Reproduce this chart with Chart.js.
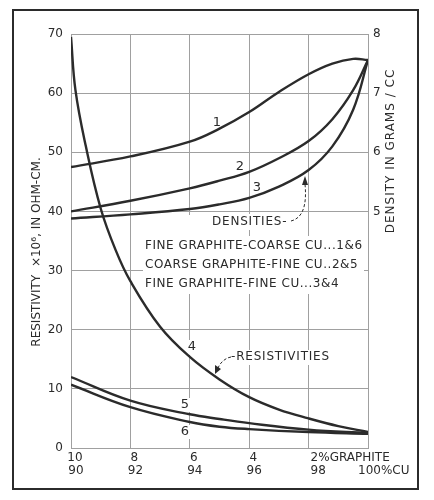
<!DOCTYPE html>
<html>
<head>
<meta charset="utf-8">
<script src="https://cdn.jsdelivr.net/npm/chart.js@4/dist/chart.umd.min.js"></script>
<style>
  body { margin: 0; background: #fff; }
  #wrap { width: 434px; height: 500px; position: relative; }
</style>
</head>
<body>
<div id="wrap"><canvas id="chart"></canvas></div>
<script>
// Copper-graphite compacts: density and resistivity vs composition

// x axis: percent copper (graphite = 100 - copper)
const xTicks = [90, 92, 94, 96, 98, 100];
const graphiteLabels = ['10', '8', '6', '4', '2%GRAPHITE', ''];
const copperLabels = ['90', '92', '94', '96', '98', '100%CU'];

// density curves (right axis, g/cc)
const densityCu = [90, 92, 94, 95, 96, 97, 98, 98.8, 99.5, 100];
const density1 = [5.75, 5.93, 6.18, 6.40, 6.68, 7.02, 7.32, 7.50, 7.58, 7.56];
const density2 = [5.00, 5.18, 5.39, 5.52, 5.67, 5.90, 6.19, 6.56, 7.05, 7.56];
const density3 = [4.88, 4.95, 5.04, 5.12, 5.23, 5.42, 5.70, 6.10, 6.72, 7.56];

// resistivity curves (left axis, x10^6 ohm-cm)
const resist4Cu = [90, 90.15, 90.5, 91, 91.5, 92, 93, 94, 95, 96, 97, 98, 99, 100];
const resist4 = [69.5, 60.5, 51.0, 40.5, 33.5, 28.2, 20.5, 15.4, 11.6, 8.6, 6.5, 5.0, 3.7, 2.7];
const resistCu = [90, 92, 94, 95, 96, 98, 100];
const resist5 = [12.0, 8.0, 5.7, 4.9, 4.2, 3.1, 2.5];
const resist6 = [10.7, 6.9, 4.4, 3.6, 3.2, 2.7, 2.4];

const leftTicks = [0, 10, 20, 30, 40, 50, 60, 70];
const rightTicks = [5, 6, 7, 8];

const legendLines = [
    'FINE GRAPHITE-COARSE CU...1&6',
    'COARSE GRAPHITE-FINE CU..2&5',
    'FINE GRAPHITE-FINE CU...3&4'
];

const INK = '#2b2b2b';
const GRID = '#a0a0a0';
const FONT = '"DejaVu Sans", sans-serif';

function toPoints(xs, ys) {
    return xs.map((x, i) => ({ x: x, y: ys[i] }));
}

function curve(xs, ys, axis) {
    return {
        data: toPoints(xs, ys),
        yAxisID: axis,
        borderColor: INK,
        borderWidth: 2.4,
        pointRadius: 0,
        fill: false,
        tension: 0.4
    };
}

// --- custom drawing: blank areas, labels, arrows, frame ---
const decor = {
    id: 'decor',
    beforeDatasetsDraw(chart) {
        const ctx = chart.ctx;
        ctx.save();
        ctx.fillStyle = '#fff';
        // gap in the grid behind the legend block and the labels
        ctx.fillRect(143, 236, 221, 58);
        ctx.fillRect(143, 215, 60, 22);
        ctx.fillRect(210, 214, 84, 16);
        ctx.fillRect(230, 350, 104, 15);
        ctx.fillRect(186, 340, 12, 15);
        ctx.fillRect(179, 398, 12, 14);
        ctx.fillRect(179, 425, 12, 14);
        ctx.restore();
    },
    afterDraw(chart) {
        const ctx = chart.ctx;
        const xs = chart.scales.x;
        ctx.save();
        ctx.fillStyle = INK;
        ctx.strokeStyle = INK;
        ctx.textBaseline = 'middle';

        // x tick labels (two rows)
        ctx.font = '12px ' + FONT;
        xTicks.forEach((v, i) => {
            const px = xs.getPixelForValue(v);
            if (i < 4) {
                ctx.textAlign = 'center';
                ctx.fillText(graphiteLabels[i], px + 4, 458);
                ctx.fillText(copperLabels[i], px + 5, 471);
            } else if (i === 4) {
                ctx.textAlign = 'left';
                ctx.fillText(graphiteLabels[i], px + 2, 458);
                ctx.fillText(copperLabels[i], px + 2, 471);
            } else {
                ctx.textAlign = 'left';
                ctx.fillText(copperLabels[i], px - 10, 471);
            }
        });

        // axis titles
        ctx.textAlign = 'center';
        ctx.letterSpacing = '0px';
        ctx.save();
        ctx.translate(37, 252);
        ctx.rotate(-Math.PI / 2);
        ctx.fillText('RESISTIVITY  \u00d710\u2076, IN OHM-CM.', 0, 0);
        ctx.restore();
        ctx.letterSpacing = '1px';
        ctx.save();
        ctx.translate(391, 151);
        ctx.rotate(-Math.PI / 2);
        ctx.fillText('DENSITY IN GRAMS / CC', 0, 0);
        ctx.restore();

        // legend block
        ctx.letterSpacing = '0.55px';
        ctx.textAlign = 'left';
        ctx.font = '12px ' + FONT;
        legendLines.forEach((t, i) => ctx.fillText(t, 145, 246 + i * 19));

        // curve group labels
        ctx.letterSpacing = '0.8px';
        ctx.fillText('DENSITIES-', 212, 222);
        ctx.fillText('-RESISTIVITIES', 231, 357);

        // curve numbers
        ctx.letterSpacing = '0px';
        ctx.textAlign = 'center';
        ctx.font = '13px ' + FONT;
        [['1', 217, 123], ['2', 240, 167], ['3', 257, 188],
         ['4', 192, 347], ['5', 185, 405], ['6', 185, 432]].forEach(l => ctx.fillText(l[0], l[1], l[2]));

        // dashed arrows
        ctx.lineWidth = 1;
        ctx.setLineDash([3, 2]);
        ctx.beginPath();
        ctx.moveTo(291, 221);
        ctx.bezierCurveTo(303, 218, 307, 205, 305, 184);
        ctx.stroke();
        ctx.beginPath();
        ctx.moveTo(231, 357);
        ctx.bezierCurveTo(225, 358, 220, 363, 218, 368);
        ctx.stroke();
        ctx.setLineDash([]);
        ctx.beginPath();
        ctx.moveTo(305, 176); ctx.lineTo(302, 185); ctx.lineTo(308, 185);
        ctx.closePath(); ctx.fill();
        ctx.beginPath();
        ctx.moveTo(215, 374); ctx.lineTo(215, 365); ctx.lineTo(221, 369);
        ctx.closePath(); ctx.fill();

        // outer frame
        ctx.lineWidth = 2;
        ctx.strokeRect(13, 10, 405, 479);
        ctx.restore();
    }
};

new Chart(document.getElementById('chart'), {
    type: 'line',
    data: {
        datasets: [
            curve(densityCu, density1, 'y2'),
            curve(densityCu, density2, 'y2'),
            curve(densityCu, density3, 'y2'),
            curve(resist4Cu, resist4, 'y'),
            curve(resistCu, resist5, 'y'),
            curve(resistCu, resist6, 'y')
        ]
    },
    options: {
        responsive: true,
        maintainAspectRatio: false,
        animation: false,
        layout: { padding: { top: 34, left: 0, right: 0, bottom: 0 } },
        plugins: { legend: { display: false }, tooltip: { enabled: false } },
        scales: {
            x: {
                type: 'linear',
                min: xTicks[0],
                max: xTicks[xTicks.length - 1],
                afterBuildTicks: s => { s.ticks = xTicks.map(v => ({ value: v })); },
                afterFit: s => { s.height = 52; },
                ticks: { display: false },
                grid: { color: GRID, lineWidth: 1, drawTicks: false },
                border: { color: GRID }
            },
            y: {
                position: 'left',
                min: 0,
                max: 70,
                afterBuildTicks: s => { s.ticks = leftTicks.map(v => ({ value: v })); },
                afterFit: s => { s.width = 71; },
                ticks: { color: INK, padding: 8, font: { family: FONT, size: 12 } },
                grid: { color: GRID, lineWidth: 1, drawTicks: false },
                border: { color: GRID }
            },
            y2: {
                position: 'right',
                min: 1,
                max: 8,
                afterBuildTicks: s => { s.ticks = rightTicks.map(v => ({ value: v })); },
                afterFit: s => { s.width = 66; },
                ticks: { color: INK, padding: 5, font: { family: FONT, size: 12 } },
                grid: { display: false, drawTicks: false },
                border: { color: GRID }
            }
        }
    },
    plugins: [decor]
});
</script>
</body>
</html>
